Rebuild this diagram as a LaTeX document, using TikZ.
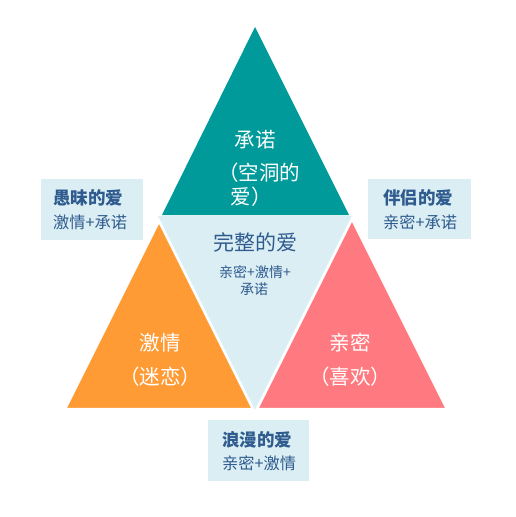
\documentclass[tikz,border=0pt]{standalone}
\usepackage{fontspec}
\setmainfont{Noto Sans CJK SC}
\definecolor{teal1}{HTML}{009A9A}
\definecolor{orange1}{HTML}{FF9B35}
\definecolor{pink1}{HTML}{FF7A80}
\definecolor{lblue}{HTML}{DBEEF4}
\definecolor{dblue}{HTML}{2F5B8E}
\begin{document}
\begin{tikzpicture}[x=1pt,y=-1pt,
  tri/.style={draw=white,line width=2.5pt,line join=miter},
  wlab/.style={text=white,font=\fontsize{20.5}{20.5}\selectfont,inner sep=0pt},
  btitle/.style={text=dblue,font=\fontsize{17.5}{17.5}\selectfont\bfseries,inner sep=0pt,anchor=west},
  bsub/.style={text=dblue,font=\fontsize{16.2}{16.2}\selectfont,inner sep=0pt,anchor=west},
  lbox/.style={fill=lblue}]
\useasboundingbox (0,0) rectangle (515,517);
% light blue inverted triangle
\fill[lblue] (158,216) -- (352,216) -- (255,410) -- cycle;
% top teal triangle
\fill[teal1] (255,27) -- (162,215) -- (349,215) -- cycle;
% orange and pink triangles
\filldraw[tri,fill=orange1] (159,221) -- (253,409) -- (65,409) -- cycle;
\filldraw[tri,fill=pink1] (352,219) -- (447,409) -- (257,409) -- cycle;
% boxes
\fill[lbox] (41,179) rectangle (143,240);
\fill[lbox] (368,179) rectangle (471,239);
\fill[lbox] (208,420) rectangle (309,481);
% white labels
\node[wlab] (cn1) at (255,140) {承诺};
\node[wlab] (cn2) at (259,173) {（空洞的};
\node[wlab] (cn3) at (251,197) {爱）};
\node[wlab] (pa1) at (160,343) {激情};
\node[wlab] (pa2) at (160,377) {（迷恋）};
\node[wlab] (in1) at (350,343) {亲密};
\node[wlab] (in2) at (350,377) {（喜欢）};
% center
\node[text=dblue,font=\fontsize{21}{21}\selectfont,inner sep=0pt] (co1) at (255,242) {完整的爱};
\node[text=dblue,font=\fontsize{14}{14}\selectfont,inner sep=0pt] (co2) at (255,272) {亲密+激情+};
\node[text=dblue,font=\fontsize{14}{14}\selectfont,inner sep=0pt] (co3) at (254,289) {承诺};
% boxes text
\node[btitle] (fl1) at (53,198) {愚昧的爱};
\node[bsub] (fl2) at (53,222) {激情+承诺};
\node[btitle] (cl1) at (383,198) {伴侣的爱};
\node[bsub] (cl2) at (383,222) {亲密+承诺};
\node[btitle] (rl1) at (222,440) {浪漫的爱};
\node[bsub] (rl2) at (222,463) {亲密+激情};
\end{tikzpicture}
\end{document}
